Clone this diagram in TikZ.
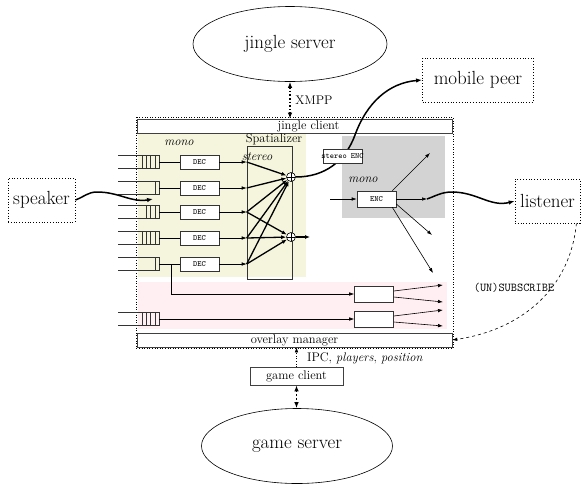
\documentclass[tikz,border=0pt]{standalone}
\usepackage{tikz}
\usetikzlibrary{arrows.meta,positioning,shapes.geometric,calc}

\definecolor{monobg}{RGB}{245,245,222}
\definecolor{mixbg}{RGB}{255,238,242}
\definecolor{encbg}{RGB}{211,211,211}

\begin{document}
\begin{tikzpicture}[
        x=1pt, y=-1pt,
        server/.style={ellipse, draw, semithick, minimum width=194pt, minimum height=75pt, font=\fontsize{19}{23}\selectfont},
        peer/.style={rectangle, draw, dotted, thick, minimum height=44pt, inner sep=2pt, font=\fontsize{19}{23}\selectfont},
        bar/.style={rectangle, draw=black!75, fill=white, semithick, minimum width=315pt, minimum height=14pt, inner sep=0pt, font=\fontsize{12.5}{14}\selectfont},
        codec/.style={rectangle, draw=black!80, fill=white, semithick, minimum width=39pt, minimum height=14pt, inner sep=0pt, font=\fontsize{8}{9}\ttfamily},
        sum/.style={circle, draw, fill=white, semithick, minimum size=9pt, inner sep=0pt, path picture={\draw (path picture bounding box.north) -- (path picture bounding box.south) (path picture bounding box.west) -- (path picture bounding box.east);}},
        lbl/.style={font=\fontsize{12.5}{14}\selectfont},
        arrow/.style={-{Latex[length=5pt,width=3.5pt]}, semithick},
        mix/.style={-{Latex[length=5pt,width=4pt]}, line width=1.3pt},
        flow/.style={-{Latex[length=6pt,width=4.5pt]}, line width=1.5pt},
        link/.style={{Latex[length=6pt,width=4.5pt]}-{Latex[length=6pt,width=4.5pt]}, dotted, line width=1.6pt}
    ]
        \useasboundingbox (0,0) rectangle (581,483);

        % areas of the client
        \fill[monobg] (138,133) rectangle (306,277);
        \fill[mixbg] (138,282) rectangle (447,329);
        \fill[encbg] (342,136) rectangle (445,218);
        \draw[dotted, semithick] (136,117) rectangle (453,348);

        \node[server] (jserver) at (290,44) {jingle server};
        \node[bar] (jclient) at (294.5,126) {\hspace*{28pt}jingle client};
        \node[bar] (overlay) at (294.5,340) {overlay manager};
        \node[bar, minimum width=93pt, minimum height=18pt] (gclient) at (296.5,376) {game client};
        \node[server, minimum width=191pt] (gserver) at (297,446) {game server};

        \node[peer, minimum width=111pt] (mobile) at (478,80) {mobile peer};
        \node[peer, minimum width=67pt] (speaker) at (41.5,200) {speaker};
        \node[peer, minimum width=65pt] (listener) at (547.5,201) {listener};

        \node[lbl] (xmpp) at (314,100) {XMPP};
        \node[lbl] (monoin) at (179,143) {\textit{mono}};
        \node[lbl] (spatlabel) at (274,139) {Spatializer};
        \node[lbl] (stereo) at (257,157) {\textit{stereo}};
        \node[lbl] (monoout) at (363,180) {\textit{mono}};
        \node[lbl] (ipc) at (365,358) {IPC, \textit{players}, \textit{position}};
        \node[font=\fontsize{12}{14}\ttfamily] (subscribe) at (514,288) {(UN)SUBSCRIBE};

        \node[draw=black!80, semithick, minimum width=45pt, minimum height=133pt] (spatializer) at (269.5,212.5) {};
        \node[sum] (sum1) at (291,177) {};
        \node[sum] (sum2) at (291,237) {};

        \node[codec] (dec1) at (199.5,162) {DEC};
        \node[codec] (dec2) at (199.5,188) {DEC};
        \node[codec] (dec3) at (199.5,212) {DEC};
        \node[codec] (dec4) at (199.5,238) {DEC};
        \node[codec] (dec5) at (199.5,264) {DEC};

        % incoming queues
        \foreach \y/\cells [count=\i] in {162/4, 188/1, 212/3, 238/4, 264/1, 319/4} {
            \draw[black!80, semithick] (118,\y-6.5) -| (159,\y+6.5) -- (118,\y+6.5);
            \foreach \k in {1,...,\cells} \draw[black!80, semithick] (159-4.2*\k,\y-6.5) -- ++(0,13);
            \coordinate (q\i) at (159,\y);
        }

        \foreach \i in {1,...,5} {
            \draw[semithick] (q\i) -- (dec\i);
            \coordinate (s\i) at (dec\i.east -| spatializer.west);
            \draw[arrow] (dec\i) -- (s\i);
        }
        \foreach \i/\s in {1/sum1, 2/sum1, 3/sum1, 3/sum2, 4/sum1, 4/sum2, 5/sum1, 5/sum2}
            \draw[mix] (s\i) -- (\s);
        \coordinate (stereoout) at (310,237);
        \draw[mix] (sum2) -- (stereoout);

        \coordinate (qin) at (153,199);
        \draw[flow] (speaker.east) to[out=20,in=180] (97,192) to[out=0,in=190] (qin);

        \draw[flow] (sum1) to[out=0,in=250] (355,135) to[out=70,in=185] (mobile.west);
        \node[codec, inner xsep=-2pt] (senc) at (342.5,156) {stereo ENC};

        \node[codec, minimum height=16pt] (enc) at (376.5,199) {ENC};
        \coordinate (encin) at (330,199);
        \coordinate (o1) at (430,153);
        \coordinate (o2) at (432,235);
        \coordinate (o3) at (433,273);
        \coordinate (w1) at (427,199);
        \draw[arrow] (encin) -- (enc);
        \draw[arrow] ([xshift=-4pt]enc.north east) -- (o1);
        \draw[arrow] ([yshift=-5pt]enc.east) -- (o2);
        \draw[arrow] ([xshift=-4pt]enc.south east) -- (o3);
        \draw[arrow] (enc) -- (w1);
        \draw[flow] (w1) to[out=20,in=180] (452,192) to[out=0,in=195] (listener.west);

        % overlay mixes
        \node[codec, minimum height=16pt] (mix1) at (374,294) {};
        \node[codec, minimum height=16pt] (mix2) at (374,319) {};
        \coordinate (tap) at (171,264);
        \draw[arrow] (tap) |- (mix1);
        \draw[arrow] (q6) -- (mix2);
        \coordinate (p1) at (443,285);
        \coordinate (p2) at (443,302);
        \coordinate (p3) at (443,310);
        \coordinate (p4) at (443,326);
        \draw[arrow] ([yshift=3pt]mix1.east) -- (p1);
        \draw[arrow] ([yshift=-3pt]mix1.east) -- (p2);
        \draw[arrow] ([yshift=3pt]mix2.east) -- (p3);
        \draw[arrow] ([yshift=-3pt]mix2.east) -- (p4);

        \draw[link] (jserver.south) -- (jserver.south |- jclient.north);
        \draw[link] (gclient.south) -- (gclient.south |- gserver.north);
        \draw[arrow, dotted] (gclient.north) -- (gclient.north |- overlay.south);
        \draw[arrow, dashed] ([xshift=-4pt]listener.south east) .. controls (570,290) and (520,330) .. (overlay.east);
    \end{tikzpicture}
\end{document}
